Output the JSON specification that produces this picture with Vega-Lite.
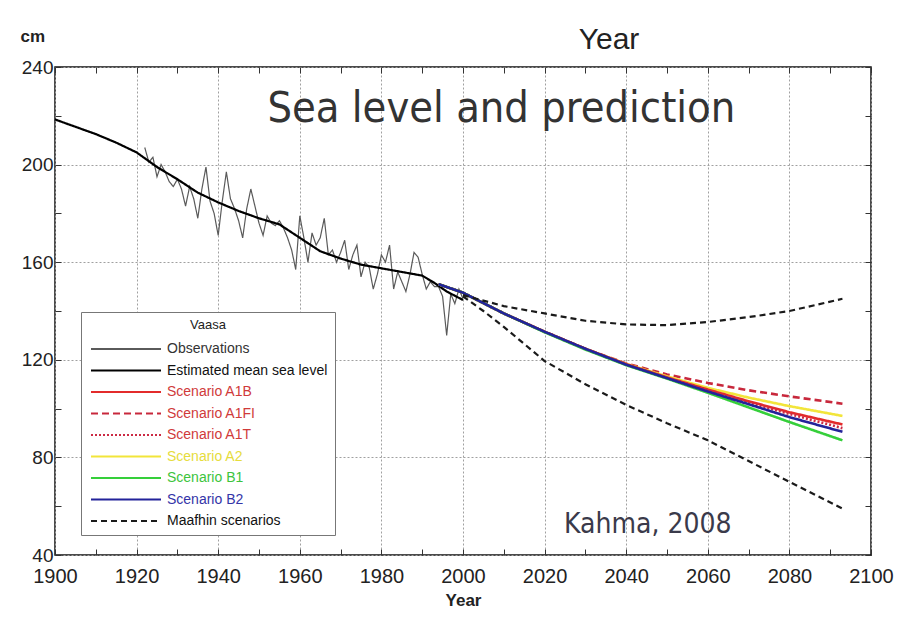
{
  "$schema": "https://vega.github.io/schema/vega-lite/v6.json",
  "width": 816,
  "height": 488,
  "autosize": "none",
  "padding": {"left": 55, "top": 67, "right": 29, "bottom": 64},
  "background": "white",
  "config": {
    "view": {"stroke": "#111111", "strokeWidth": 1.5},
    "axis": {"labelFlush": false, "labelOverlap": false, "labelBound": false}
  },
  "title": {
    "text": "Year",
    "anchor": "middle",
    "frame": "group",
    "dx": 146,
    "dy": 31,
    "offset": -21,
    "baseline": "alphabetic",
    "font": "Liberation Sans",
    "fontSize": 30,
    "fontWeight": "normal",
    "color": "#222222"
  },
  "datasets": {
    "lines": [
      {"series": "Observations", "line": "obs", "year": 1922, "cm": 207},
      {"series": "Observations", "line": "obs", "year": 1923, "cm": 201},
      {"series": "Observations", "line": "obs", "year": 1924, "cm": 203},
      {"series": "Observations", "line": "obs", "year": 1925, "cm": 195},
      {"series": "Observations", "line": "obs", "year": 1926, "cm": 200},
      {"series": "Observations", "line": "obs", "year": 1927, "cm": 197},
      {"series": "Observations", "line": "obs", "year": 1928, "cm": 193},
      {"series": "Observations", "line": "obs", "year": 1929, "cm": 191},
      {"series": "Observations", "line": "obs", "year": 1930, "cm": 194},
      {"series": "Observations", "line": "obs", "year": 1931, "cm": 190},
      {"series": "Observations", "line": "obs", "year": 1932, "cm": 183},
      {"series": "Observations", "line": "obs", "year": 1933, "cm": 191},
      {"series": "Observations", "line": "obs", "year": 1934, "cm": 186},
      {"series": "Observations", "line": "obs", "year": 1935, "cm": 178},
      {"series": "Observations", "line": "obs", "year": 1936, "cm": 190},
      {"series": "Observations", "line": "obs", "year": 1937, "cm": 199},
      {"series": "Observations", "line": "obs", "year": 1938, "cm": 185},
      {"series": "Observations", "line": "obs", "year": 1939, "cm": 180},
      {"series": "Observations", "line": "obs", "year": 1940, "cm": 171},
      {"series": "Observations", "line": "obs", "year": 1941, "cm": 185},
      {"series": "Observations", "line": "obs", "year": 1942, "cm": 197},
      {"series": "Observations", "line": "obs", "year": 1943, "cm": 186},
      {"series": "Observations", "line": "obs", "year": 1944, "cm": 182},
      {"series": "Observations", "line": "obs", "year": 1945, "cm": 177},
      {"series": "Observations", "line": "obs", "year": 1946, "cm": 170},
      {"series": "Observations", "line": "obs", "year": 1947, "cm": 182},
      {"series": "Observations", "line": "obs", "year": 1948, "cm": 190},
      {"series": "Observations", "line": "obs", "year": 1949, "cm": 183},
      {"series": "Observations", "line": "obs", "year": 1950, "cm": 176},
      {"series": "Observations", "line": "obs", "year": 1951, "cm": 171},
      {"series": "Observations", "line": "obs", "year": 1952, "cm": 179},
      {"series": "Observations", "line": "obs", "year": 1953, "cm": 176},
      {"series": "Observations", "line": "obs", "year": 1954, "cm": 175},
      {"series": "Observations", "line": "obs", "year": 1955, "cm": 177},
      {"series": "Observations", "line": "obs", "year": 1956, "cm": 174},
      {"series": "Observations", "line": "obs", "year": 1957, "cm": 170},
      {"series": "Observations", "line": "obs", "year": 1958, "cm": 165},
      {"series": "Observations", "line": "obs", "year": 1959, "cm": 157},
      {"series": "Observations", "line": "obs", "year": 1960, "cm": 179},
      {"series": "Observations", "line": "obs", "year": 1961, "cm": 170},
      {"series": "Observations", "line": "obs", "year": 1962, "cm": 160},
      {"series": "Observations", "line": "obs", "year": 1963, "cm": 172},
      {"series": "Observations", "line": "obs", "year": 1964, "cm": 167},
      {"series": "Observations", "line": "obs", "year": 1965, "cm": 170},
      {"series": "Observations", "line": "obs", "year": 1966, "cm": 178},
      {"series": "Observations", "line": "obs", "year": 1967, "cm": 163},
      {"series": "Observations", "line": "obs", "year": 1968, "cm": 165},
      {"series": "Observations", "line": "obs", "year": 1969, "cm": 160},
      {"series": "Observations", "line": "obs", "year": 1970, "cm": 164},
      {"series": "Observations", "line": "obs", "year": 1971, "cm": 169},
      {"series": "Observations", "line": "obs", "year": 1972, "cm": 157},
      {"series": "Observations", "line": "obs", "year": 1973, "cm": 163},
      {"series": "Observations", "line": "obs", "year": 1974, "cm": 167},
      {"series": "Observations", "line": "obs", "year": 1975, "cm": 154},
      {"series": "Observations", "line": "obs", "year": 1976, "cm": 160},
      {"series": "Observations", "line": "obs", "year": 1977, "cm": 158},
      {"series": "Observations", "line": "obs", "year": 1978, "cm": 149},
      {"series": "Observations", "line": "obs", "year": 1979, "cm": 155},
      {"series": "Observations", "line": "obs", "year": 1980, "cm": 163},
      {"series": "Observations", "line": "obs", "year": 1981, "cm": 160},
      {"series": "Observations", "line": "obs", "year": 1982, "cm": 167},
      {"series": "Observations", "line": "obs", "year": 1983, "cm": 149},
      {"series": "Observations", "line": "obs", "year": 1984, "cm": 156},
      {"series": "Observations", "line": "obs", "year": 1985, "cm": 152},
      {"series": "Observations", "line": "obs", "year": 1986, "cm": 148},
      {"series": "Observations", "line": "obs", "year": 1987, "cm": 155},
      {"series": "Observations", "line": "obs", "year": 1988, "cm": 164},
      {"series": "Observations", "line": "obs", "year": 1989, "cm": 162},
      {"series": "Observations", "line": "obs", "year": 1990, "cm": 155},
      {"series": "Observations", "line": "obs", "year": 1991, "cm": 149},
      {"series": "Observations", "line": "obs", "year": 1992, "cm": 152},
      {"series": "Observations", "line": "obs", "year": 1993, "cm": 150},
      {"series": "Observations", "line": "obs", "year": 1994, "cm": 150},
      {"series": "Observations", "line": "obs", "year": 1995, "cm": 146},
      {"series": "Observations", "line": "obs", "year": 1996, "cm": 130},
      {"series": "Observations", "line": "obs", "year": 1997, "cm": 147},
      {"series": "Observations", "line": "obs", "year": 1998, "cm": 143},
      {"series": "Observations", "line": "obs", "year": 1999, "cm": 149},
      {"series": "Observations", "line": "obs", "year": 2000, "cm": 145},

      {"series": "Estimated mean sea level", "line": "mean", "year": 1900, "cm": 218.5},
      {"series": "Estimated mean sea level", "line": "mean", "year": 1905, "cm": 215.5},
      {"series": "Estimated mean sea level", "line": "mean", "year": 1910, "cm": 212.5},
      {"series": "Estimated mean sea level", "line": "mean", "year": 1915, "cm": 209},
      {"series": "Estimated mean sea level", "line": "mean", "year": 1920, "cm": 205},
      {"series": "Estimated mean sea level", "line": "mean", "year": 1925, "cm": 199},
      {"series": "Estimated mean sea level", "line": "mean", "year": 1930, "cm": 194},
      {"series": "Estimated mean sea level", "line": "mean", "year": 1935, "cm": 188.5},
      {"series": "Estimated mean sea level", "line": "mean", "year": 1940, "cm": 184.5},
      {"series": "Estimated mean sea level", "line": "mean", "year": 1945, "cm": 181},
      {"series": "Estimated mean sea level", "line": "mean", "year": 1950, "cm": 178},
      {"series": "Estimated mean sea level", "line": "mean", "year": 1955, "cm": 175.5},
      {"series": "Estimated mean sea level", "line": "mean", "year": 1960, "cm": 170},
      {"series": "Estimated mean sea level", "line": "mean", "year": 1965, "cm": 164.5},
      {"series": "Estimated mean sea level", "line": "mean", "year": 1970, "cm": 161.5},
      {"series": "Estimated mean sea level", "line": "mean", "year": 1975, "cm": 159},
      {"series": "Estimated mean sea level", "line": "mean", "year": 1980, "cm": 157.5},
      {"series": "Estimated mean sea level", "line": "mean", "year": 1985, "cm": 156},
      {"series": "Estimated mean sea level", "line": "mean", "year": 1990, "cm": 154.5},
      {"series": "Estimated mean sea level", "line": "mean", "year": 1993, "cm": 151.5},
      {"series": "Estimated mean sea level", "line": "mean", "year": 1996, "cm": 148},
      {"series": "Estimated mean sea level", "line": "mean", "year": 2000, "cm": 144.5},

      {"series": "Scenario A1FI", "line": "A1FI", "year": 1994, "cm": 151},
      {"series": "Scenario A1FI", "line": "A1FI", "year": 2000, "cm": 147.5},
      {"series": "Scenario A1FI", "line": "A1FI", "year": 2010, "cm": 139},
      {"series": "Scenario A1FI", "line": "A1FI", "year": 2020, "cm": 131.5},
      {"series": "Scenario A1FI", "line": "A1FI", "year": 2030, "cm": 124.5},
      {"series": "Scenario A1FI", "line": "A1FI", "year": 2040, "cm": 118.5},
      {"series": "Scenario A1FI", "line": "A1FI", "year": 2050, "cm": 114},
      {"series": "Scenario A1FI", "line": "A1FI", "year": 2060, "cm": 110.5},
      {"series": "Scenario A1FI", "line": "A1FI", "year": 2070, "cm": 107.5},
      {"series": "Scenario A1FI", "line": "A1FI", "year": 2080, "cm": 105},
      {"series": "Scenario A1FI", "line": "A1FI", "year": 2093, "cm": 102},

      {"series": "Scenario A2", "line": "A2", "year": 1994, "cm": 151},
      {"series": "Scenario A2", "line": "A2", "year": 2000, "cm": 147.5},
      {"series": "Scenario A2", "line": "A2", "year": 2010, "cm": 139},
      {"series": "Scenario A2", "line": "A2", "year": 2020, "cm": 131.5},
      {"series": "Scenario A2", "line": "A2", "year": 2030, "cm": 124.5},
      {"series": "Scenario A2", "line": "A2", "year": 2040, "cm": 118.3},
      {"series": "Scenario A2", "line": "A2", "year": 2050, "cm": 113.2},
      {"series": "Scenario A2", "line": "A2", "year": 2060, "cm": 108.5},
      {"series": "Scenario A2", "line": "A2", "year": 2070, "cm": 104.5},
      {"series": "Scenario A2", "line": "A2", "year": 2080, "cm": 101},
      {"series": "Scenario A2", "line": "A2", "year": 2093, "cm": 97},

      {"series": "Scenario A1B", "line": "A1B", "year": 1994, "cm": 151},
      {"series": "Scenario A1B", "line": "A1B", "year": 2000, "cm": 147.5},
      {"series": "Scenario A1B", "line": "A1B", "year": 2010, "cm": 139},
      {"series": "Scenario A1B", "line": "A1B", "year": 2020, "cm": 131.5},
      {"series": "Scenario A1B", "line": "A1B", "year": 2030, "cm": 124.5},
      {"series": "Scenario A1B", "line": "A1B", "year": 2040, "cm": 118.2},
      {"series": "Scenario A1B", "line": "A1B", "year": 2050, "cm": 112.8},
      {"series": "Scenario A1B", "line": "A1B", "year": 2060, "cm": 107.8},
      {"series": "Scenario A1B", "line": "A1B", "year": 2070, "cm": 103},
      {"series": "Scenario A1B", "line": "A1B", "year": 2080, "cm": 98.5},
      {"series": "Scenario A1B", "line": "A1B", "year": 2093, "cm": 93.5},

      {"series": "Scenario A1T", "line": "A1T", "year": 1994, "cm": 151},
      {"series": "Scenario A1T", "line": "A1T", "year": 2000, "cm": 147.5},
      {"series": "Scenario A1T", "line": "A1T", "year": 2010, "cm": 139},
      {"series": "Scenario A1T", "line": "A1T", "year": 2020, "cm": 131.5},
      {"series": "Scenario A1T", "line": "A1T", "year": 2030, "cm": 124.5},
      {"series": "Scenario A1T", "line": "A1T", "year": 2040, "cm": 118.1},
      {"series": "Scenario A1T", "line": "A1T", "year": 2050, "cm": 112.6},
      {"series": "Scenario A1T", "line": "A1T", "year": 2060, "cm": 107.4},
      {"series": "Scenario A1T", "line": "A1T", "year": 2070, "cm": 102.5},
      {"series": "Scenario A1T", "line": "A1T", "year": 2080, "cm": 97.8},
      {"series": "Scenario A1T", "line": "A1T", "year": 2093, "cm": 92},

      {"series": "Scenario B1", "line": "B1", "year": 1994, "cm": 151},
      {"series": "Scenario B1", "line": "B1", "year": 2000, "cm": 147.5},
      {"series": "Scenario B1", "line": "B1", "year": 2010, "cm": 139},
      {"series": "Scenario B1", "line": "B1", "year": 2020, "cm": 131.3},
      {"series": "Scenario B1", "line": "B1", "year": 2030, "cm": 124.2},
      {"series": "Scenario B1", "line": "B1", "year": 2040, "cm": 117.8},
      {"series": "Scenario B1", "line": "B1", "year": 2050, "cm": 112.3},
      {"series": "Scenario B1", "line": "B1", "year": 2060, "cm": 106.5},
      {"series": "Scenario B1", "line": "B1", "year": 2070, "cm": 100.5},
      {"series": "Scenario B1", "line": "B1", "year": 2080, "cm": 94.5},
      {"series": "Scenario B1", "line": "B1", "year": 2093, "cm": 87},

      {"series": "Scenario B2", "line": "B2", "year": 1994, "cm": 151},
      {"series": "Scenario B2", "line": "B2", "year": 2000, "cm": 147.5},
      {"series": "Scenario B2", "line": "B2", "year": 2010, "cm": 139},
      {"series": "Scenario B2", "line": "B2", "year": 2020, "cm": 131.5},
      {"series": "Scenario B2", "line": "B2", "year": 2030, "cm": 124.5},
      {"series": "Scenario B2", "line": "B2", "year": 2040, "cm": 118},
      {"series": "Scenario B2", "line": "B2", "year": 2050, "cm": 112.5},
      {"series": "Scenario B2", "line": "B2", "year": 2060, "cm": 107},
      {"series": "Scenario B2", "line": "B2", "year": 2070, "cm": 101.8},
      {"series": "Scenario B2", "line": "B2", "year": 2080, "cm": 96.5},
      {"series": "Scenario B2", "line": "B2", "year": 2093, "cm": 90.5},

      {"series": "Maafhin scenarios", "line": "upper", "year": 2000, "cm": 146.5},
      {"series": "Maafhin scenarios", "line": "upper", "year": 2010, "cm": 142},
      {"series": "Maafhin scenarios", "line": "upper", "year": 2020, "cm": 139},
      {"series": "Maafhin scenarios", "line": "upper", "year": 2030, "cm": 136},
      {"series": "Maafhin scenarios", "line": "upper", "year": 2040, "cm": 134.5},
      {"series": "Maafhin scenarios", "line": "upper", "year": 2050, "cm": 134.2},
      {"series": "Maafhin scenarios", "line": "upper", "year": 2060, "cm": 135.5},
      {"series": "Maafhin scenarios", "line": "upper", "year": 2070, "cm": 137.5},
      {"series": "Maafhin scenarios", "line": "upper", "year": 2080, "cm": 140},
      {"series": "Maafhin scenarios", "line": "upper", "year": 2093, "cm": 145},

      {"series": "Maafhin scenarios", "line": "lower", "year": 2000, "cm": 146},
      {"series": "Maafhin scenarios", "line": "lower", "year": 2005, "cm": 140},
      {"series": "Maafhin scenarios", "line": "lower", "year": 2010, "cm": 133.5},
      {"series": "Maafhin scenarios", "line": "lower", "year": 2020, "cm": 119.5},
      {"series": "Maafhin scenarios", "line": "lower", "year": 2030, "cm": 110},
      {"series": "Maafhin scenarios", "line": "lower", "year": 2040, "cm": 101.5},
      {"series": "Maafhin scenarios", "line": "lower", "year": 2050, "cm": 94},
      {"series": "Maafhin scenarios", "line": "lower", "year": 2060, "cm": 87},
      {"series": "Maafhin scenarios", "line": "lower", "year": 2070, "cm": 78.5},
      {"series": "Maafhin scenarios", "line": "lower", "year": 2080, "cm": 70},
      {"series": "Maafhin scenarios", "line": "lower", "year": 2093, "cm": 59}
    ],
    "notes": [
      {"note": "Sea level and prediction"}
    ],
    "credit": [
      {"note": "Kahma, 2008"}
    ]
  },
  "layer": [
    {
      "data": {"name": "lines"},
      "encoding": {
        "x": {
          "field": "year", "type": "quantitative",
          "scale": {"domain": [1900, 2100], "nice": false, "zero": false},
          "axis": {
            "orient": "bottom",
            "values": [1900, 1910, 1920, 1930, 1940, 1950, 1960, 1970, 1980, 1990, 2000, 2010, 2020, 2030, 2040, 2050, 2060, 2070, 2080, 2090, 2100],
            "format": "d",
            "labelExpr": "datum.value % 20 === 0 ? datum.label : ''",
            "grid": true,
            "gridColor": "#a0a0a0",
            "gridDash": [2, 2],
            "gridWidth": 1,
            "gridOpacity": {"condition": {"test": "datum.value % 20 === 0", "value": 1}, "value": 0},
            "domain": false,
            "ticks": true,
            "tickSize": -6,
            "tickColor": "#333333",
            "tickWidth": 1,
            "labelPadding": 17,
            "labelFont": "Liberation Sans",
            "labelFontSize": 20,
            "labelColor": "#222222",
            "title": "Year",
            "titleFont": "Liberation Sans",
            "titleFontSize": 17,
            "titleFontWeight": "bold",
            "titleColor": "#222222",
            "titlePadding": 6
          }
        },
        "y": {
          "field": "cm", "type": "quantitative",
          "scale": {"domain": [40, 240], "nice": false, "zero": false},
          "axis": {
            "orient": "left",
            "values": [40, 60, 80, 100, 120, 140, 160, 180, 200, 220, 240],
            "format": "d",
            "labelExpr": "datum.value % 40 === 0 ? datum.label : ''",
            "grid": true,
            "gridColor": "#a0a0a0",
            "gridDash": [2, 2],
            "gridWidth": 1,
            "gridOpacity": {"condition": {"test": "datum.value % 40 === 0", "value": 1}, "value": 0},
            "domain": false,
            "ticks": true,
            "tickSize": -6,
            "tickColor": "#333333",
            "labelPadding": 8,
            "labelFont": "Liberation Sans",
            "labelFontSize": 19,
            "labelColor": "#222222",
            "title": "cm",
            "titleAngle": 0,
            "titleAlign": "left",
            "titleBaseline": "alphabetic",
            "titleX": -35,
            "titleY": -26,
            "titleFont": "Liberation Sans",
            "titleFontSize": 17,
            "titleFontWeight": "bold",
            "titleColor": "#222222"
          }
        },
        "color": {
          "field": "series", "type": "nominal",
          "scale": {
            "domain": ["Observations", "Estimated mean sea level", "Scenario A1B", "Scenario A1FI", "Scenario A1T", "Scenario A2", "Scenario B1", "Scenario B2", "Maafhin scenarios"],
            "range": ["#5a5a5a", "#000000", "#e32b2b", "#c8283c", "#cc2a44", "#f2e53a", "#35cf3a", "#23239a", "#1a1a1a"]
          },
          "legend": {
            "title": "Vaasa",
            "orient": "none",
            "legendX": 26,
            "legendY": 245,
            "titleAnchor": "middle",
            "titleFont": "Liberation Sans",
            "titleFontSize": 13,
            "titleFontWeight": "normal",
            "titleColor": "#222222",
            "titlePadding": 6,
            "symbolType": "M-3.5,0H3.5",
            "symbolSize": 400,
            "symbolOffset": 27,
            "symbolStrokeWidth": 2,
            "labelOffset": 30,
            "labelFont": "Liberation Sans",
            "labelFontSize": 14,
            "labelLimit": 400,
            "labelColor": {"expr": "indexof(['Scenario A1B','Scenario A1FI','Scenario A1T'], datum.label) >= 0 ? '#d03a3a' : datum.label === 'Scenario A2' ? '#e6dc3c' : datum.label === 'Scenario B1' ? '#3cc43c' : datum.label === 'Scenario B2' ? '#3434a8' : datum.label === 'Observations' ? '#333333' : '#111111'"},
            "rowPadding": 3.5,
            "padding": 7,
            "strokeColor": "#777777",
            "fillColor": "white"
          }
        },
        "strokeDash": {
          "field": "series", "type": "nominal",
          "scale": {
            "domain": ["Observations", "Estimated mean sea level", "Scenario A1B", "Scenario A1FI", "Scenario A1T", "Scenario A2", "Scenario B1", "Scenario B2", "Maafhin scenarios"],
            "range": [[1, 0], [1, 0], [1, 0], [7, 4], [2, 2], [1, 0], [1, 0], [1, 0], [6, 4]]
          },
          "legend": {"title": "Vaasa"}
        },
        "detail": {"field": "line", "type": "nominal"}
      },
      "layer": [
        {
          "transform": [{"filter": "datum.series === 'Observations'"}],
          "mark": {"type": "line", "strokeWidth": 1.2}
        },
        {
          "transform": [{"filter": "datum.series === 'Estimated mean sea level'"}],
          "mark": {"type": "line", "strokeWidth": 2.2}
        },
        {
          "transform": [{"filter": "indexof(datum.series, 'Scenario') === 0"}],
          "mark": {"type": "line", "strokeWidth": 2.6}
        },
        {
          "transform": [{"filter": "datum.series === 'Maafhin scenarios'"}],
          "mark": {"type": "line", "strokeWidth": 2.2}
        }
      ]
    },
    {
      "data": {"name": "notes"},
      "mark": {"type": "text", "font": "DejaVu Sans Condensed", "fontSize": 43, "color": "#333333", "align": "center", "baseline": "alphabetic"},
      "encoding": {
        "text": {"field": "note", "type": "nominal"},
        "x": {
          "datum": 2009.4, "type": "quantitative",
          "axis": {
            "orient": "top",
            "values": [1900, 1910, 1920, 1930, 1940, 1950, 1960, 1970, 1980, 1990, 2000, 2010, 2020, 2030, 2040, 2050, 2060, 2070, 2080, 2090, 2100],
            "labels": false, "grid": false, "domain": false,
            "tickSize": -6, "tickColor": "#333333", "title": null
          }
        },
        "y": {
          "datum": 217.6, "type": "quantitative",
          "axis": {
            "orient": "right",
            "values": [40, 60, 80, 100, 120, 140, 160, 180, 200, 220, 240],
            "labels": false, "grid": false, "domain": false,
            "tickSize": -6, "tickColor": "#333333", "title": null
          }
        }
      }
    },
    {
      "data": {"name": "credit"},
      "mark": {"type": "text", "font": "DejaVu Sans Condensed", "fontSize": 28, "color": "#3a3a4a", "align": "center", "baseline": "alphabetic"},
      "encoding": {
        "text": {"field": "note", "type": "nominal"},
        "x": {"datum": 2045.3, "type": "quantitative", "axis": null},
        "y": {"datum": 49, "type": "quantitative", "axis": null}
      }
    }
  ],
  "resolve": {"axis": {"x": "independent", "y": "independent"}}
}
